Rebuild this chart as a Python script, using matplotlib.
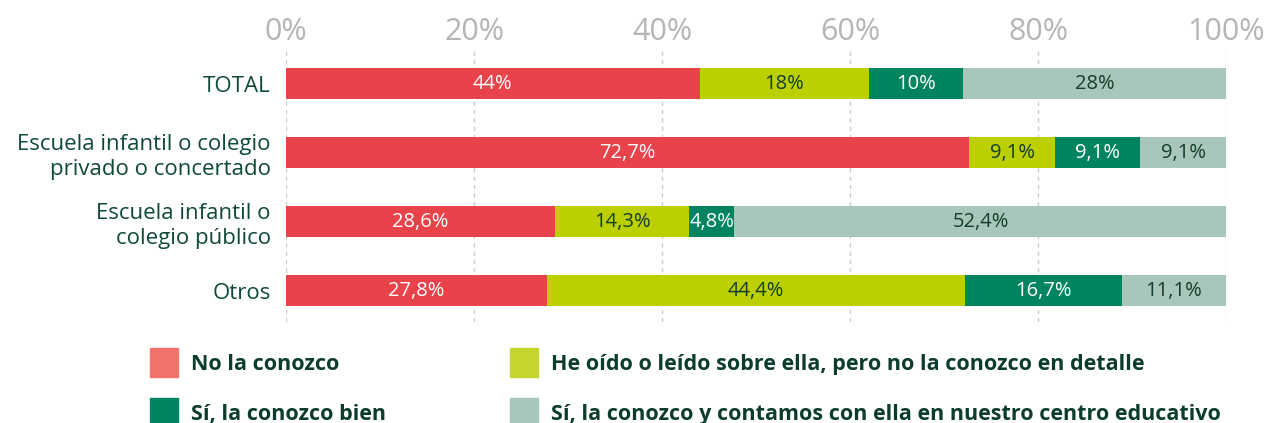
import matplotlib
matplotlib.use("Agg")
import matplotlib.pyplot as plt
from matplotlib.patches import Rectangle
import numpy as np

plt.rcParams['font.family'] = ['Open Sans', 'DejaVu Sans']

categories = ["TOTAL", "Escuela infantil o colegio\nprivado o concertado",
              "Escuela infantil o\ncolegio público", "Otros"]
series_names = ["No la conozco",
                "He oído o leído sobre ella, pero no la conozco en detalle",
                "Sí, la conozco bien",
                "Sí, la conozco y contamos con ella en nuestro centro educativo"]
no_conozco = [44, 72.7, 28.6, 27.8]
he_oido = [18, 9.1, 14.3, 44.4]
conozco_bien = [10, 9.1, 4.8, 16.7]
contamos = [28, 9.1, 52.4, 11.1]
xticks = [0, 20, 40, 60, 80, 100]
xtick_labels = ["0%", "20%", "40%", "60%", "80%", "100%"]

bar_colors = ["#E8434A", "#BCCF00", "#00845F", "#A8C7BA"]
legend_colors = ["#F2736C", "#C5D42E", "#00845F", "#A8C7BA"]
label_colors = ["white", "#133D2C", "white", "#133D2C"]
text_color = "#0F4A33"
legend_text_color = "#0B3D2A"

series = [no_conozco, he_oido, conozco_bien, contamos]

fig = plt.figure(figsize=(12.66, 4.23), dpi=100)
ax = fig.add_axes([286/1266, (423-322)/423, 940/1266, 272/423])

y = np.arange(len(categories))
left = np.zeros(len(categories))
for vals, col, lc in zip(series, bar_colors, label_colors):
    vals = np.array(vals, dtype=float)
    ax.barh(y, vals, left=left, height=0.45, color=col, zorder=3)
    for yi, l, v in zip(y, left, vals):
        txt = f"{v:g}".replace(".", ",") + "%"
        ax.text(l + v/2, yi, txt, ha="center", va="center", color=lc,
                fontsize=14.5, zorder=4)
    left += vals

ax.set_xlim(0, 100)
ax.set_ylim(3.45, -0.49)
ax.set_yticks(y)
ax.set_yticklabels(categories, fontsize=16, color=text_color, linespacing=1.2)
ax.tick_params(axis="y", length=0, pad=11)
ax.xaxis.tick_top()
ax.set_xticks(xticks)
ax.set_xticklabels(xtick_labels, fontsize=22, color="#B5B5B5")
ax.tick_params(axis="x", length=0, pad=2)
ax.grid(axis="x", linestyle=(0, (3, 3)), color="#CCCCCC", linewidth=1, zorder=0)
for s in ax.spines.values():
    s.set_visible(False)

# legend
pos = [(150, 348), (510, 348), (150, 398), (510, 398)]
for (px, py), name, col in zip(pos, series_names, legend_colors):
    fig.add_artist(Rectangle((px/1266, 1 - (py+29)/423), 28/1266, 29/423,
                             transform=fig.transFigure, color=col))
    fig.text((px+41)/1266, 1 - (py+16)/423, name, ha="left", va="center",
             fontsize=15.5, fontweight="bold", color=legend_text_color)

fig.savefig("out.png", dpi=100)
